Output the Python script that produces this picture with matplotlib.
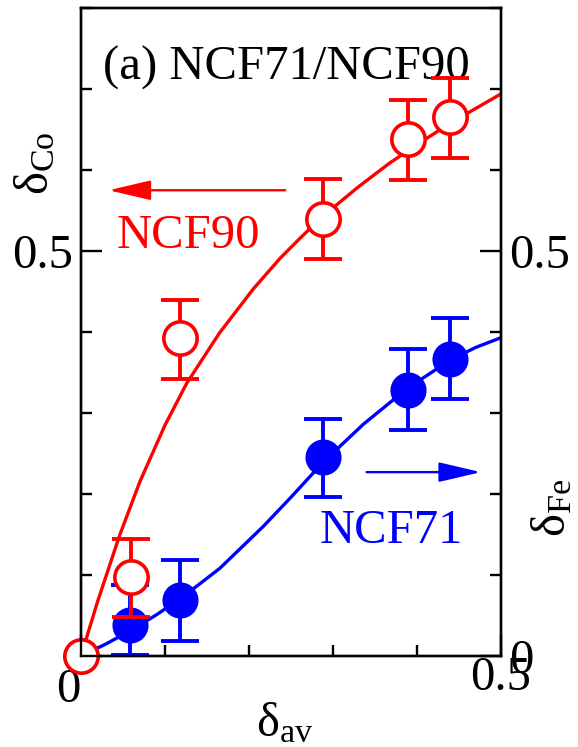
import matplotlib
matplotlib.use("Agg")
import matplotlib.pyplot as plt
from matplotlib.ticker import MultipleLocator, FixedLocator, FixedFormatter
from matplotlib.transforms import ScaledTranslation

plt.rcParams['font.family'] = ['Liberation Serif', 'DejaVu Serif']
plt.rcParams['mathtext.fontset'] = 'custom'
plt.rcParams['mathtext.rm'] = 'Liberation Serif'
plt.rcParams['mathtext.it'] = 'Liberation Serif:italic'

RED = '#ff0000'
BLUE = '#0000ff'

# NCF90: delta_Co (left axis)
ncf90_x = [0.0, 0.06, 0.118, 0.288, 0.389, 0.439]
ncf90_y = [0.0, 0.098, 0.392, 0.540, 0.638, 0.665]
ncf90_err_lo = [0.0, 0.05, 0.05, 0.05, 0.05, 0.05]
ncf90_err_hi = [0.0, 0.047, 0.047, 0.049, 0.049, 0.049]

# NCF71: delta_Fe (right axis)
ncf71_x = [0.0, 0.058, 0.118, 0.288, 0.389, 0.439]
ncf71_y = [0.0, 0.038, 0.069, 0.246, 0.329, 0.367]
ncf71_err_lo = [0.0, 0.037, 0.05, 0.05, 0.05, 0.05]
ncf71_err_hi = [0.0, 0.05, 0.049, 0.047, 0.05, 0.05]

# model curves
fit90_x = [0.0, 0.02, 0.046, 0.07, 0.10, 0.126, 0.165, 0.205, 0.237,
           0.261, 0.288, 0.33, 0.368, 0.41, 0.44, 0.47, 0.5]
fit90_y = [0.0, 0.068, 0.149, 0.215, 0.285, 0.337, 0.399, 0.453, 0.491,
           0.516, 0.543, 0.579, 0.609, 0.638, 0.658, 0.676, 0.694]
fit71_x = [0.0, 0.03, 0.06, 0.09, 0.12, 0.165, 0.217, 0.25, 0.288,
           0.336, 0.388, 0.439, 0.47, 0.5]
fit71_y = [0.0, 0.015, 0.032, 0.051, 0.072, 0.108, 0.160, 0.196, 0.239,
           0.286, 0.330, 0.365, 0.381, 0.393]

W, H = 578, 747
fig = plt.figure(figsize=(W / 100, H / 100), dpi=100)
ax = fig.add_axes([81 / W, 1 - 656 / H, 420 / W, 648 / H])
ax2 = ax.twinx()

for a in (ax, ax2):
    a.set_xlim(0, 0.5)
    a.set_ylim(0, 0.8)
    for s in a.spines.values():
        s.set_linewidth(1.7)

FS = 35
tick_kw = dict(direction='in', width=1.7, labelsize=FS)

ax.xaxis.set_major_locator(FixedLocator([0.0, 0.5]))
ax.xaxis.set_major_formatter(FixedFormatter(['', '0.5']))
ax.xaxis.set_minor_locator(MultipleLocator(0.1))
ax.yaxis.set_major_locator(FixedLocator([0.0, 0.5]))
ax.yaxis.set_major_formatter(FixedFormatter(['', '0.5']))
ax.yaxis.set_minor_locator(MultipleLocator(0.1))
ax.tick_params(which='major', length=15, pad=6, top=False, right=False, **tick_kw)
ax.tick_params(which='minor', length=8, top=False, right=False, direction='in', width=1.7)
ax.tick_params(axis='x', which='major', pad=0)

ax2.yaxis.set_major_locator(FixedLocator([0.0, 0.5]))
ax2.yaxis.set_major_formatter(FixedFormatter(['0', '0.5']))
ax2.yaxis.set_minor_locator(MultipleLocator(0.1))
ax2.tick_params(which='major', length=15, pad=6, **tick_kw)
ax2.tick_params(which='minor', length=8, direction='in', width=1.7)

# shared zero at the lower-left corner
ax.text(0.0, 0.0, '0', fontsize=FS, ha='center', va='top',
        transform=ax.transData + ScaledTranslation(-0.13, -0.12, fig.dpi_scale_trans))

# NCF71 curve and points
ax.plot(fit71_x, fit71_y, color=BLUE, lw=2.4, zorder=2)
ax.errorbar(ncf71_x, ncf71_y, yerr=[ncf71_err_lo, ncf71_err_hi], fmt='none',
            ecolor=BLUE, elinewidth=2.8, capsize=13.7, capthick=2.8, zorder=3)
ax.plot(ncf71_x, ncf71_y, 'o', color=BLUE, ms=26, mew=0, zorder=3, clip_on=False)

# NCF90 curve and points
ax.plot(fit90_x, fit90_y, color=RED, lw=2.4, zorder=4)
ax.errorbar(ncf90_x, ncf90_y, yerr=[ncf90_err_lo, ncf90_err_hi], fmt='none',
            ecolor=RED, elinewidth=2.8, capsize=13.7, capthick=2.8, zorder=5)
ax.plot(ncf90_x, ncf90_y, 'o', ms=24, mfc='white', mec=RED, mew=2.6,
        zorder=6, clip_on=False)

# axis labels
fig.text(36 / W, 1 - 163 / H, r'$\mathrm{\delta}_{\mathrm{Co}}$', fontsize=FS,
         rotation=90, ha='center', va='center')
fig.text(553 / W, 1 - 508 / H, r'$\mathrm{\delta}_{\mathrm{Fe}}$', fontsize=FS,
         rotation=90, ha='center', va='center')
fig.text(285 / W, 1 - 724 / H, r'$\mathrm{\delta}_{\mathrm{av}}$', fontsize=FS,
         ha='center', va='center')

ax.text(0.026, 0.712, '(a) NCF71/NCF90', fontsize=FS, ha='left', va='baseline')
ax.text(0.043, 0.504, 'NCF90', fontsize=FS, color=RED, ha='left', va='baseline')
ax.text(0.2845, 0.1395, 'NCF71', fontsize=FS, color=BLUE, ha='left', va='baseline')

arrow_style = '-|>,head_length=26,head_width=6.1'
ax.annotate('', xy=(0.033, 0.575), xytext=(0.243, 0.575),
            arrowprops=dict(arrowstyle=arrow_style, mutation_scale=1, color=RED,
                            lw=1.7, shrinkA=0, shrinkB=0))
ax.annotate('', xy=(0.476, 0.227), xytext=(0.340, 0.227),
            arrowprops=dict(arrowstyle=arrow_style, mutation_scale=1, color=BLUE,
                            lw=1.7, shrinkA=0, shrinkB=0))

fig.savefig('out.png', dpi=100)
